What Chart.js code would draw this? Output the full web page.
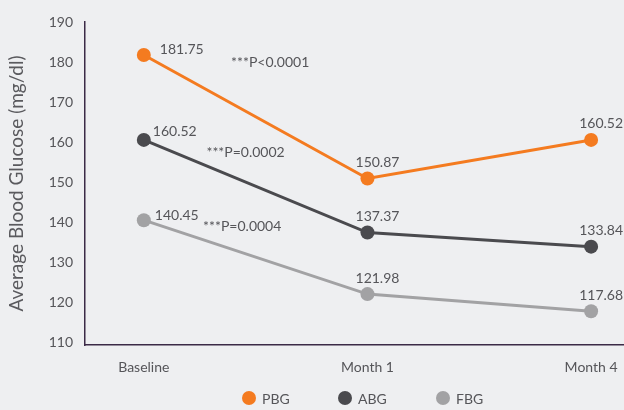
<!DOCTYPE html>
<html>
<head>
<meta charset="utf-8">
<script src="https://cdn.jsdelivr.net/npm/chart.js@4.4.0/dist/chart.umd.min.js"></script>
<style>
  html, body { margin: 0; padding: 0; background: #eeeff1; overflow: hidden; }
  #wrap { width: 624px; height: 410px; overflow: hidden; }
</style>
</head>
<body>
<div id="wrap"><canvas id="glucose" width="632" height="410"></canvas></div>
<script>
// ---- data ----
const categories = ["Baseline", "Month 1", "Month 4"];
const pbgValues = [181.75, 150.87, 160.52];
const abgValues = [160.52, 137.37, 133.84];
const fbgValues = [140.45, 121.98, 117.68];
const seriesNames = ["PBG", "ABG", "FBG"];
const pValues = ["***P<0.0001", "***P=0.0002", "***P=0.0004"];
const yTicks = [110, 120, 130, 140, 150, 160, 170, 180, 190];

const colors = ["#f47b20", "#4a4a4e", "#a2a2a4"];
const textColor = "#555559";
const fontFamily = "Lato, 'Open Sans', sans-serif";

function toPoints(values) {
  return values.map((v, i) => ({ x: i, y: v }));
}

function makeSet(name, values, color) {
  return {
    label: name,
    data: toPoints(values),
    borderColor: color,
    backgroundColor: color,
    pointBackgroundColor: color,
    pointBorderWidth: 0,
    pointRadius: 7,
    pointHoverRadius: 7,
    borderWidth: 3,
    tension: 0
  };
}

// background fill
const bgPlugin = {
  id: "bg",
  beforeDraw(chart) {
    const ctx = chart.ctx;
    ctx.save();
    ctx.fillStyle = "#eeeff1";
    ctx.fillRect(0, 0, chart.width, chart.height);
    ctx.restore();
  }
};

// value labels + p-value notes
const labelPlugin = {
  id: "labels",
  afterDatasetsDraw(chart) {
    const ctx = chart.ctx;
    const xs = chart.scales.x, ys = chart.scales.y;
    const firstDx = [16, 9, 11];
    const firstDy = [-6, -8, -5];
    ctx.save();
    ctx.fillStyle = textColor;
    ctx.textBaseline = "middle";
    ctx.font = "14px " + fontFamily;
    chart.data.datasets.forEach((ds, di) => {
      const meta = chart.getDatasetMeta(di);
      meta.data.forEach((pt, i) => {
        const txt = ds.data[i].y.toFixed(2);
        if (i === 0) {
          ctx.textAlign = "left";
          ctx.fillText(txt, pt.x + firstDx[di], pt.y + firstDy[di]);
        } else {
          ctx.textAlign = "center";
          ctx.fillText(txt, pt.x + 10, pt.y - 16);
        }
      });
    });
    // p-value notes, placed in data coordinates
    const notePos = [[0.39, 180], [0.28, 157.3], [0.265, 139]];
    ctx.font = "14px " + fontFamily;
    ctx.textAlign = "left";
    pValues.forEach((t, i) => {
      ctx.fillText(t, xs.getPixelForValue(notePos[i][0]), ys.getPixelForValue(notePos[i][1]));
    });
    ctx.restore();
  }
};

// legend under the axis
const legendPlugin = {
  id: "bottomLegend",
  afterDraw(chart) {
    const ctx = chart.ctx;
    const startX = [249, 345, 443];
    const y = 398;
    ctx.save();
    ctx.font = "14px " + fontFamily;
    ctx.textBaseline = "middle";
    ctx.textAlign = "left";
    chart.data.datasets.forEach((ds, i) => {
      ctx.fillStyle = ds.borderColor;
      ctx.beginPath();
      ctx.arc(startX[i], y, 7, 0, Math.PI * 2);
      ctx.fill();
      ctx.fillStyle = textColor;
      ctx.fillText(ds.label, startX[i] + 13, y + 1);
    });
    ctx.restore();
  }
};

new Chart(document.getElementById("glucose"), {
  type: "line",
  data: {
    datasets: [
      makeSet(seriesNames[0], pbgValues, colors[0]),
      makeSet(seriesNames[1], abgValues, colors[1]),
      makeSet(seriesNames[2], fbgValues, colors[2])
    ]
  },
  options: {
    responsive: false,
    animation: false,
    layout: { padding: { top: 22, right: 0, bottom: 35, left: 0 } },
    plugins: {
      legend: { display: false },
      tooltip: { enabled: false }
    },
    scales: {
      x: {
        type: "linear",
        min: -0.263,
        max: 2.143,
        afterBuildTicks(scale) {
          scale.ticks = categories.map((c, i) => ({ value: i }));
        },
        afterFit(scale) {
          scale.height = 30;
        },
        grid: { display: false, drawTicks: false },
        border: { display: true, color: "#3b2a47", width: 1.5 },
        ticks: {
          autoSkip: false,
          maxRotation: 0,
          padding: 14,
          color: textColor,
          font: { family: fontFamily, size: 14 },
          callback: (v) => categories[v]
        }
      },
      y: {
        min: 109.25,
        max: yTicks[yTicks.length - 1],
        afterBuildTicks(scale) {
          scale.ticks = yTicks.map(v => ({ value: v }));
        },
        afterFit(scale) { scale.width = 85; },
        grid: { display: false, drawTicks: false },
        border: { display: true, color: "#3b2a47", width: 1.5 },
        ticks: {
          padding: 12,
          color: textColor,
          font: { family: fontFamily, size: 14 }
        },
        title: {
          display: true,
          text: "Average Blood Glucose (mg/dl)",
          color: "#5a5a5e",
          font: { family: fontFamily, size: 19 },
          padding: { top: 5, bottom: 0 }
        }
      }
    }
  },
  plugins: [bgPlugin, labelPlugin, legendPlugin]
});
</script>
</body>
</html>
